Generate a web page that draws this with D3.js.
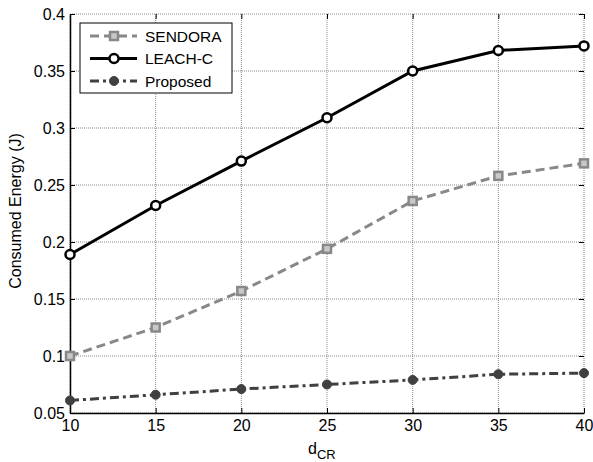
<!DOCTYPE html>
<html>
<head>
<meta charset="utf-8">
<script src="https://cdn.jsdelivr.net/npm/d3@7"></script>
<style>
  body { margin: 0; background: #fff; }
  text { font-family: "Liberation Sans", Arial, sans-serif; }
</style>
</head>
<body>
<div class="chart"></div>
<script>
// Chart data
var dValues = [10, 15, 20, 25, 30, 35, 40];
var sendora = [0.100, 0.125, 0.157, 0.194, 0.236, 0.258, 0.269];
var leachC = [0.189, 0.232, 0.271, 0.309, 0.350, 0.368, 0.372];
var proposed = [0.061, 0.066, 0.071, 0.075, 0.079, 0.084, 0.085];
var xTicks = [10, 15, 20, 25, 30, 35, 40];
var yTicks = [0.05, 0.1, 0.15, 0.2, 0.25, 0.3, 0.35, 0.4];

var svgWidth = 593;
var svgHeight = 462;
var margin = { top: 14, right: 9, bottom: 49, left: 70 };
var width = svgWidth - margin.left - margin.right;
var height = svgHeight - margin.top - margin.bottom;

var svg = d3.select(".chart")
  .append("svg")
  .attr("width", svgWidth)
  .attr("height", svgHeight);

var chart = svg.append("g")
  .attr("transform", "translate(" + margin.left + "," + margin.top + ")");

var xScale = d3.scaleLinear().domain([10, 40]).range([0, width]);
var yScale = d3.scaleLinear().domain([0.05, 0.4]).range([height, 0]);

// Grid lines (dotted, MATLAB style)
chart.append("g").selectAll("line")
  .data(xTicks)
  .enter()
  .append("line")
  .attr("x1", function (d) { return xScale(d); })
  .attr("x2", function (d) { return xScale(d); })
  .attr("y1", 0)
  .attr("y2", height)
  .attr("stroke", "#888")
  .attr("stroke-width", 1)
  .attr("stroke-dasharray", "1,1");

chart.append("g").selectAll("line")
  .data(yTicks)
  .enter()
  .append("line")
  .attr("x1", 0)
  .attr("x2", width)
  .attr("y1", function (d) { return yScale(d); })
  .attr("y2", function (d) { return yScale(d); })
  .attr("stroke", "#888")
  .attr("stroke-width", 1)
  .attr("stroke-dasharray", "1,1");

// Axes, ticks pointing inward
var xAxis = d3.axisBottom(xScale).tickValues(xTicks).tickSizeInner(-5).tickSizeOuter(0).tickPadding(7)
  .tickFormat(d3.format("d"));
var yAxis = d3.axisLeft(yScale).tickValues(yTicks).tickSizeInner(-5).tickSizeOuter(0).tickPadding(5)
  .tickFormat(function (d) { return String(+d.toFixed(2)); });

var gx = chart.append("g")
  .attr("transform", "translate(0," + height + ")")
  .call(xAxis);
var gy = chart.append("g").call(yAxis);

[gx, gy].forEach(function (g) {
  g.select(".domain").attr("stroke", "#000").attr("stroke-width", 1.5);
  g.selectAll(".tick line").attr("stroke", "#000");
  g.selectAll(".tick text")
    .attr("fill", "#000")
    .style("font-size", "16px")
    .style("font-family", "Liberation Sans, Arial, sans-serif");
});

// Ticks on top and right edges
chart.append("g").call(d3.axisTop(xScale).tickValues(xTicks).tickSizeInner(-5).tickSizeOuter(0).tickFormat(""))
  .call(function (g) { g.select(".domain").remove(); g.selectAll(".tick line").attr("stroke", "#000"); });
chart.append("g").attr("transform", "translate(" + width + ",0)")
  .call(d3.axisRight(yScale).tickValues(yTicks).tickSizeInner(-5).tickSizeOuter(0).tickFormat(""))
  .call(function (g) { g.select(".domain").remove(); g.selectAll(".tick line").attr("stroke", "#000"); });

// Series definitions
var series = [
  { name: "SENDORA", values: sendora, color: "#888888", dash: "9,5", marker: "square" },
  { name: "LEACH-C", values: leachC, color: "#000000", dash: null, marker: "circle" },
  { name: "Proposed", values: proposed, color: "#404040", dash: "9,4,3,4", marker: "dot" }
];

var line = d3.line()
  .x(function (d) { return xScale(d.x); })
  .y(function (d) { return yScale(d.y); });

function drawMarker(g, s, cx, cy) {
  if (s.marker === "square") {
    g.append("rect")
      .attr("x", cx - 4).attr("y", cy - 4)
      .attr("width", 8).attr("height", 8)
      .attr("fill", "#c8c8c8")
      .attr("stroke", s.color)
      .attr("stroke-width", 2.5);
  } else if (s.marker === "circle") {
    g.append("circle")
      .attr("cx", cx).attr("cy", cy).attr("r", 4.5)
      .attr("fill", "#fff")
      .attr("stroke", s.color)
      .attr("stroke-width", 2.5);
  } else {
    g.append("circle")
      .attr("cx", cx).attr("cy", cy).attr("r", 4.5)
      .attr("fill", s.color)
      .attr("stroke", s.color)
      .attr("stroke-width", 1);
  }
}

series.forEach(function (s) {
  var pts = dValues.map(function (d, i) { return { x: d, y: s.values[i] }; });
  chart.append("path")
    .datum(pts)
    .attr("d", line)
    .attr("fill", "none")
    .attr("stroke", s.color)
    .attr("stroke-width", 3)
    .attr("stroke-dasharray", s.dash);
  var mg = chart.append("g");
  pts.forEach(function (p) {
    drawMarker(mg, s, xScale(p.x), yScale(p.y));
  });
});

// Legend
var legend = svg.append("g").attr("transform", "translate(80,23)");
legend.append("rect")
  .attr("width", 152).attr("height", 70)
  .attr("fill", "#fff")
  .attr("stroke", "#000")
  .attr("stroke-width", 1);

series.forEach(function (s, i) {
  var ly = 13 + i * 22.5;
  legend.append("line")
    .attr("x1", 10).attr("x2", 57)
    .attr("y1", ly).attr("y2", ly)
    .attr("stroke", s.color)
    .attr("stroke-width", 3)
    .attr("stroke-dasharray", s.dash);
  drawMarker(legend, s, 34, ly);
  legend.append("text")
    .attr("x", 65).attr("y", ly + 5.5)
    .style("font-size", "15.5px")
    .attr("fill", "#000")
    .text(s.name);
});

// Axis labels
svg.append("text")
  .attr("transform", "translate(21,211) rotate(-90)")
  .attr("text-anchor", "middle")
  .style("font-size", "16px")
  .text("Consumed Energy (J)");

var xl = svg.append("text")
  .attr("x", 308)
  .attr("y", 454)
  .style("font-size", "16px");
xl.append("tspan").text("d");
xl.append("tspan").attr("dy", 5).style("font-size", "13px").text("CR");
</script>
</body>
</html>
